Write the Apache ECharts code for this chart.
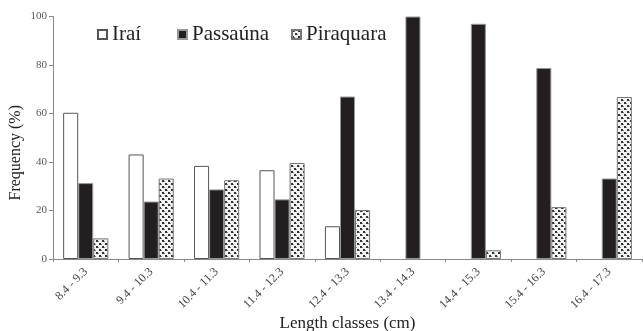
<!DOCTYPE html>
<html><head><meta charset="utf-8">
<script src="https://cdn.jsdelivr.net/npm/echarts@6/dist/echarts.min.js"></script>
<style>html,body{margin:0;padding:0;background:#fff}#c{width:643px;height:331px}</style>
</head><body><div id="c"></div>
<script>
const categories = ['8.4 - 9.3','9.4 - 10.3','10.4 - 11.3','11.4 - 12.3','12.4 - 13.3','13.4 - 14.3','14.4 - 15.3','15.4 - 16.3','16.4 - 17.3'];
const seriesNames = ['Iraí','Passaúna','Piraquara'];
const irai = [60.3, 43.1, 38.4, 36.6, 13.5, null, null, null, null];
const passauna = [31.3, 23.7, 28.7, 24.6, 67.0, 100, 97.0, 78.8, 33.2];
const piraquara = [8.5, 33.2, 32.5, 39.6, 20.2, null, 3.6, 21.4, 66.8];
const yTicks = [0, 20, 40, 60, 80, 100];

function makePattern(){
  const c = document.createElement('canvas');
  c.width = 6; c.height = 6;
  const g = c.getContext('2d');
  g.fillStyle = '#f4f4f4'; g.fillRect(0,0,6,6);
  g.fillStyle = '#333';
  g.fillRect(0,0,2,2); g.fillRect(3,3,2,2);
  g.fillStyle = '#888';
  g.fillRect(2,1,1,1); g.fillRect(5,4,1,1);
  return c;
}
const pat = {image: makePattern(), repeat: 'repeat'};
const font = '"Liberation Serif", "Times New Roman", serif';
const legendLefts = [97, 177, 291];
const chart = echarts.init(document.getElementById('c'));
chart.setOption({
  animation: false,
  textStyle: {fontFamily: font},
  legend: seriesNames.map((n, i) => ({
    left: legendLefts[i], top: 24, icon: 'rect', itemWidth: 9, itemHeight: 9, itemGap: 4,
    padding: 0,
    textStyle: {fontFamily: font, fontSize: 21, color: '#222'},
    data: [n]
  })),
  grid: {left: 53, right: 1, top: 16.5, bottom: 72, outerBoundsMode: 'none', containLabel: false},
  xAxis: {
    type: 'category', data: categories,
    name: 'Length classes (cm)', nameLocation: 'middle', nameGap: 56, nameMoveOverlap: false,
    nameTextStyle: {fontFamily: font, fontSize: 17, color: '#222'},
    axisLine: {lineStyle: {color: '#888'}},
    axisTick: {show: true, length: 3, lineStyle: {color: '#888'}},
    axisLabel: {rotate: 45, fontSize: 12, color: '#444', fontFamily: font, margin: 11}
  },
  yAxis: {
    type: 'value', min: yTicks[0], max: yTicks[yTicks.length-1], interval: 20,
    name: 'Frequency (%)', nameLocation: 'middle', nameGap: 29, nameMoveOverlap: false,
    nameTextStyle: {fontFamily: font, fontSize: 16, color: '#222', padding: [0, 30, 0, 0]},
    splitLine: {show: false},
    axisLine: {show: true, lineStyle: {color: '#888'}},
    axisTick: {show: true, length: 4, lineStyle: {color: '#888'}},
    axisLabel: {fontSize: 11, color: '#555', fontFamily: font, margin: 6}
  },
  series: [
    {name: seriesNames[0], type: 'bar', data: irai, barGap: '0%', barCategoryGap: '31%',
     itemStyle: {color: '#fff', borderColor: '#555', borderWidth: 1}},
    {name: seriesNames[1], type: 'bar', data: passauna,
     itemStyle: {color: '#231f20', borderColor: '#999', borderWidth: 1}},
    {name: seriesNames[2], type: 'bar', data: piraquara,
     itemStyle: {color: pat, borderColor: '#777', borderWidth: 1}}
  ]
});
</script></body></html>
